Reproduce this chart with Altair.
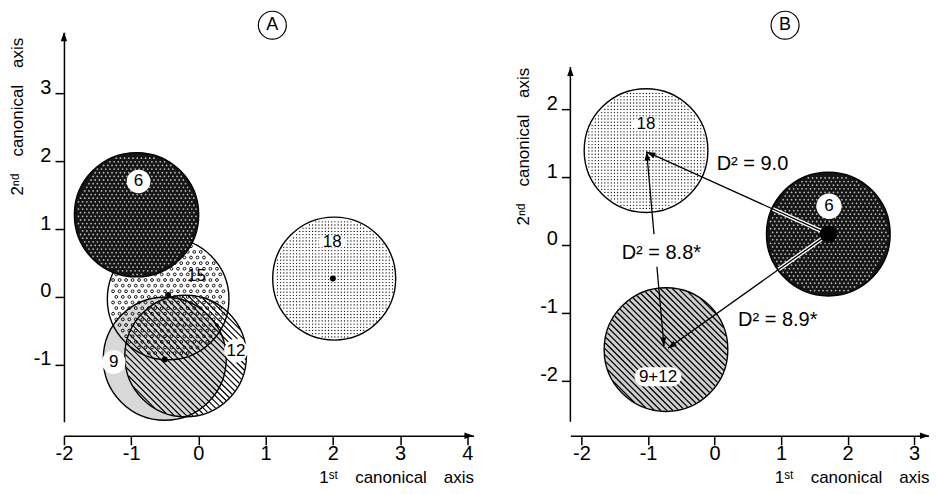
import math
import numpy as np
import pandas as pd
import altair as alt

FONT = "Liberation Sans"

# ---------------- data ----------------
# Panel A : group centroids and confidence-circle radii (canonical units)
A_GROUPS = ["6", "15", "18", "9", "12"]
A_CX = [-0.92, -0.45, 2.02, -0.50, -0.19]
A_CY = [1.21, -0.03, 0.27, -0.91, -0.87]
A_R = [0.92, 0.90, 0.91, 0.91, 0.90]
A_LABEL_X = [-0.89, -0.03, 1.99, -1.26, 0.56]
A_LABEL_Y = [1.70, 0.31, 0.81, -0.96, -0.79]
A_DOT_X = [-0.45, 2.00, -0.50]
A_DOT_Y = [0.03, 0.27, -0.92]
A_XTICKS = [-2, -1, 0, 1, 2, 3, 4]
A_YTICKS = [-1, 0, 1, 2, 3]

# Panel B
B_GROUPS = ["18", "6", "9+12"]
B_CX = [-1.03, 1.71, -0.73]
B_CY = [1.39, 0.16, -1.54]
B_R = [0.92, 0.92, 0.92]
B_LABEL_X = [-1.03, 1.72, -0.85]
B_LABEL_Y = [1.78, 0.57, -1.94]
B_XTICKS = [-2, -1, 0, 1, 2, 3]
B_YTICKS = [-2, -1, 0, 1, 2]
B_YAXIS_TOP = 2.62

# Mahalanobis distances between groups (panel B arrows)
D_TEXT = ["D\u00b2 = 9.0", "D\u00b2 = 8.8*", "D\u00b2 = 8.9*"]
D_X1 = [1.71, -0.76, 1.71]
D_Y1 = [0.16, -1.49, 0.16]
D_X2 = [-1.02, -1.02, -0.70]
D_Y2 = [1.37, 1.37, -1.52]
D_BOTH = [False, True, False]
D_GAP_LO = [None, -0.32, None]
D_GAP_HI = [None, 0.16, None]
D_TX = [0.57, -0.80, 0.95]
D_TY = [1.19, -0.12, -1.10]

PANEL_LETTERS = ["A", "B"]
LETTER_X = [1.10, 1.06]
LETTER_Y = [4.00, 3.235]

# ---------------- layout (pixels per unit, plot sizes) ----------------
H = 390
KX_A, KY_A, W_A, XMIN_A, YTOP_A = 67.3, 68.0, 410, -2.0, 3.897
KX_B, KY_B, W_B, XMIN_B, YTOP_B = 66.6, 68.0, 359, -2.167, 3.132
XMAX_A, YBOT_A = XMIN_A + W_A / KX_A, YTOP_A - H / KY_A
XMAX_B, YBOT_B = XMIN_B + W_B / KX_B, YTOP_B - H / KY_B

ARROW = "M0,0 L-0.35,1 L0.35,1 Z"
PILL = "M-0.6,-0.42 L0.6,-0.42 A0.42,0.42 0 0 1 0.6,0.42 L-0.6,0.42 A0.42,0.42 0 0 1 -0.6,-0.42 Z"
LBL = "datum.value < 0 ? '-' + abs(datum.value) : '' + datum.value"


def rpx(r, kx, ky):
    return r * math.sqrt(kx * ky)


def sym_size(r, kx, ky):
    # Vega circle symbol: radius = sqrt(size) / 2
    return (2 * rpx(r, kx, ky)) ** 2


def hatch(cx, cy, r, kx, ky, spacing=4.3, inset=0.7):
    R = rpx(r, kx, ky)
    s2 = math.sqrt(0.5)
    rows = []
    for d in np.arange(-R + spacing / 2, R, spacing):
        h = math.sqrt(max(R * R - d * d, 0)) - inset
        if h <= 0.5:
            continue
        px, py = d * s2, -d * s2
        X1, Y1 = px - h * s2, py - h * s2
        X2, Y2 = px + h * s2, py + h * s2
        rows.append(dict(x=cx + X1 / kx, y=cy - Y1 / ky, x2=cx + X2 / kx, y2=cy - Y2 / ky))
    return pd.DataFrame(rows)


def grid(cx, cy, r, kx, ky, spacing, inset=1.5, hexagonal=True):
    R = rpx(r, kx, ky) - inset
    pts = []
    step_y = spacing * (0.866 if hexagonal else 1.0)
    for j, Y in enumerate(np.arange(-R, R + 0.01, step_y)):
        off = spacing / 2 if (hexagonal and j % 2) else 0
        for X in np.arange(-R + off, R + 0.01, spacing):
            if X * X + Y * Y <= R * R:
                pts.append(dict(x=cx + X / kx, y=cy - Y / ky))
    return pd.DataFrame(pts)


def bearing(x1, y1, x2, y2, kx, ky):
    dX = (x2 - x1) * kx
    dY = -(y2 - y1) * ky
    return math.degrees(math.atan2(dX, -dY)) % 360


def x_axis(values):
    return alt.Axis(values=values, title="1\u02e2\u1d57\u2003canonical\u2003axis", titleAnchor="end",
                    offset=14, tickSize=9, tickWidth=1.5, tickColor="black", domain=True,
                    domainColor="black", domainWidth=1.5, labelExpr=LBL, labelFont=FONT,
                    labelFontSize=20, labelColor="black", labelPadding=-1, labelFlush=False,
                    labelOverlap=False, titleFont=FONT, titleFontSize=17, titleFontWeight="normal",
                    titleColor="black", titlePadding=6, grid=False)


def y_axis(values, domain, title_y):
    return alt.Axis(values=values, title="2\u207f\u1d48\u2003canonical\u2003axis", titleAnchor="end",
                    titleY=title_y, tickSize=9, tickWidth=1.5, tickColor="black", domain=domain,
                    domainColor="black", domainWidth=1.5, labelExpr=LBL, labelFont=FONT,
                    labelFontSize=20, labelColor="black", labelPadding=4, labelBaseline="alphabetic",
                    labelFlush=False, labelOverlap=False, titleFont=FONT, titleFontSize=17,
                    titleFontWeight="normal", titleColor="black", titlePadding=7, grid=False)


def make_enc(xmin, xmax, ybot, ytop, xa, ya):
    xs = alt.Scale(domain=[xmin, xmax], nice=False, zero=False)
    ys = alt.Scale(domain=[ybot, ytop], nice=False, zero=False)

    def X(f="x"):
        return alt.X(f"{f}:Q", scale=xs, axis=xa)

    def Y(f="y"):
        return alt.Y(f"{f}:Q", scale=ys, axis=ya)
    return X, Y


def text_layer(df, X, Y, size, xf="x", yf="y"):
    return alt.Chart(df).mark_text(font=FONT, fontSize=size, color="black", align="center",
                                   baseline="middle").encode(X(xf), Y(yf), text="t:N")


# ====================== PANEL A ======================
XA, YA = make_enc(XMIN_A, XMAX_A, YBOT_A, YTOP_A, x_axis(A_XTICKS), y_axis(A_YTICKS, True, 5))
circA = pd.DataFrame(dict(g=A_GROUPS, x=A_CX, y=A_CY, r=A_R, lx=A_LABEL_X, ly=A_LABEL_Y))
circA["s"] = [sym_size(r, KX_A, KY_A) for r in A_R]
circA["t"] = A_GROUPS
cA = {g: row for g, row in circA.set_index("g").iterrows()}

a_layers = []
a_layers.append(alt.Chart(circA[circA.g == "9"]).mark_circle(color="#d8d8d8", opacity=1)
                .encode(XA(), YA(), size=alt.Size("s:Q", scale=None)))
a_layers.append(alt.Chart(hatch(cA["12"].x, cA["12"].y, cA["12"].r, KX_A, KY_A))
                .mark_rule(color="black", strokeWidth=1.2)
                .encode(XA(), YA(), x2="x2:Q", y2="y2:Q"))
a_layers.append(alt.Chart(grid(cA["15"].x, cA["15"].y, cA["15"].r, KX_A, KY_A, 6.5, 2.5))
                .mark_point(shape="circle", filled=False, color="black", size=8, strokeWidth=0.9, opacity=1)
                .encode(XA(), YA()))
a_layers.append(alt.Chart(grid(cA["18"].x, cA["18"].y, cA["18"].r, KX_A, KY_A, 3.2, 1.5, False))
                .mark_circle(color="black", size=1.6, opacity=1).encode(XA(), YA()))
a_layers.append(alt.Chart(circA[circA.g != "6"]).mark_point(shape="circle", filled=False, color="black",
                                                            strokeWidth=1.4, opacity=1)
                .encode(XA(), YA(), size=alt.Size("s:Q", scale=None)))
a_layers.append(alt.Chart(circA[circA.g == "6"]).mark_circle(color="#151515", opacity=1)
                .encode(XA(), YA(), size=alt.Size("s:Q", scale=None)))
a_layers.append(alt.Chart(grid(cA["6"].x, cA["6"].y, cA["6"].r, KX_A, KY_A, 4.2, 2.0))
                .mark_circle(color="white", size=3.2, opacity=0.7).encode(XA(), YA()))
a_layers.append(alt.Chart(circA[circA.g == "6"]).mark_point(shape="circle", filled=False, color="black",
                                                            strokeWidth=1.4, opacity=1)
                .encode(XA(), YA(), size=alt.Size("s:Q", scale=None)))
a_layers.append(alt.Chart(circA[circA.g.isin(["6", "9", "12"])]).mark_circle(color="white", size=560, opacity=1)
                .encode(XA("lx"), YA("ly")))
a_layers.append(alt.Chart(circA[circA.g == "18"]).mark_point(shape=PILL, filled=True, color="white", size=700, opacity=1)
                .encode(XA("lx"), YA("ly")))
a_layers.append(text_layer(circA, XA, YA, 17, "lx", "ly"))
a_layers.append(alt.Chart(pd.DataFrame(dict(x=A_DOT_X, y=A_DOT_Y)))
                .mark_circle(color="black", size=36, opacity=1).encode(XA(), YA()))
a_layers.append(alt.Chart(pd.DataFrame(dict(x=[XMIN_A], y=[YTOP_A])))
                .mark_point(shape=ARROW, filled=True, color="black", size=330, opacity=1, angle=0)
                .encode(XA(), YA()))
a_layers.append(alt.Chart(pd.DataFrame(dict(x=[XMAX_A], y=[YBOT_A])))
                .mark_point(shape=ARROW, filled=True, color="black", size=330, opacity=1, angle=90, yOffset=14)
                .encode(XA(), YA()))
letA = pd.DataFrame(dict(x=[LETTER_X[0]], y=[LETTER_Y[0]], t=[PANEL_LETTERS[0]]))
a_layers.append(alt.Chart(letA).mark_point(shape="circle", filled=False, color="black", size=784,
                                           strokeWidth=1.2, opacity=1).encode(XA(), YA()))
a_layers.append(text_layer(letA, XA, YA, 18))

panelA = alt.layer(*a_layers).properties(width=W_A, height=H)

# ====================== PANEL B ======================
XB, YB = make_enc(XMIN_B, XMAX_B, YBOT_B, YTOP_B, x_axis(B_XTICKS), y_axis(B_YTICKS, False, 35))
circB = pd.DataFrame(dict(g=B_GROUPS, x=B_CX, y=B_CY, r=B_R, lx=B_LABEL_X, ly=B_LABEL_Y))
circB["s"] = [sym_size(r, KX_B, KY_B) for r in B_R]
circB["t"] = B_GROUPS
cB = {g: row for g, row in circB.set_index("g").iterrows()}

# arrow segments, halos and heads
segs, halos, heads = [], [], []
c6 = cB["6"]
R6 = rpx(c6.r, KX_B, KY_B)
for i in range(len(D_TEXT)):
    x1, y1, x2, y2 = D_X1[i], D_Y1[i], D_X2[i], D_Y2[i]
    if D_GAP_LO[i] is not None:
        def xat(yy):
            return x1 + (x2 - x1) * (yy - y1) / (y2 - y1)
        segs.append(dict(x=x1, y=y1, x2=xat(D_GAP_LO[i]), y2=D_GAP_LO[i]))
        segs.append(dict(x=xat(D_GAP_HI[i]), y=D_GAP_HI[i], x2=x2, y2=y2))
    else:
        segs.append(dict(x=x1, y=y1, x2=x2, y2=y2))
    heads.append(dict(x=x2, y=y2, a=bearing(x1, y1, x2, y2, KX_B, KY_B)))
    if D_BOTH[i]:
        heads.append(dict(x=x1, y=y1, a=bearing(x2, y2, x1, y1, KX_B, KY_B)))
    if abs(x1 - c6.x) < 1e-9 and abs(y1 - c6.y) < 1e-9:
        dX, dY = (x2 - x1) * KX_B, (y2 - y1) * KY_B
        L = math.hypot(dX, dY)
        f = (R6 - 1.0) / L
        halos.append(dict(x=x1, y=y1, x2=x1 + (x2 - x1) * f, y2=y1 + (y2 - y1) * f))
segs, halos, heads = pd.DataFrame(segs), pd.DataFrame(halos), pd.DataFrame(heads)
dlab = pd.DataFrame(dict(x=D_TX, y=D_TY, t=D_TEXT))

b_layers = []
b_layers.append(alt.Chart(circB[circB.g == "9+12"]).mark_circle(color="#cfcfcf", opacity=1)
                .encode(XB(), YB(), size=alt.Size("s:Q", scale=None)))
b_layers.append(alt.Chart(hatch(cB["9+12"].x, cB["9+12"].y, cB["9+12"].r, KX_B, KY_B))
                .mark_rule(color="black", strokeWidth=1.3)
                .encode(XB(), YB(), x2="x2:Q", y2="y2:Q"))
b_layers.append(alt.Chart(grid(cB["18"].x, cB["18"].y, cB["18"].r, KX_B, KY_B, 3.2, 1.5, False))
                .mark_circle(color="black", size=1.6, opacity=1).encode(XB(), YB()))
b_layers.append(alt.Chart(circB[circB.g != "6"]).mark_point(shape="circle", filled=False, color="black",
                                                            strokeWidth=1.4, opacity=1)
                .encode(XB(), YB(), size=alt.Size("s:Q", scale=None)))
b_layers.append(alt.Chart(circB[circB.g == "6"]).mark_circle(color="#151515", opacity=1)
                .encode(XB(), YB(), size=alt.Size("s:Q", scale=None)))
b_layers.append(alt.Chart(grid(c6.x, c6.y, c6.r, KX_B, KY_B, 4.2, 2.0))
                .mark_circle(color="white", size=3.2, opacity=0.7).encode(XB(), YB()))
b_layers.append(alt.Chart(circB[circB.g == "6"]).mark_point(shape="circle", filled=False, color="black",
                                                            strokeWidth=1.4, opacity=1)
                .encode(XB(), YB(), size=alt.Size("s:Q", scale=None)))
b_layers.append(alt.Chart(halos).mark_rule(color="white", strokeWidth=4)
                .encode(XB(), YB(), x2="x2:Q", y2="y2:Q"))
b_layers.append(alt.Chart(segs).mark_rule(color="black", strokeWidth=1.3)
                .encode(XB(), YB(), x2="x2:Q", y2="y2:Q"))
b_layers.append(alt.Chart(circB[circB.g == "6"]).mark_circle(color="black", size=300, opacity=1)
                .encode(XB(), YB()))
b_layers.append(alt.Chart(heads).mark_point(shape=ARROW, filled=True, color="black", size=300, opacity=1)
                .encode(XB(), YB(), angle=alt.Angle("a:Q", scale=None)))
b_layers.append(alt.Chart(circB[circB.g == "6"]).mark_circle(color="white", size=640, opacity=1)
                .encode(XB("lx"), YB("ly")))
b_layers.append(alt.Chart(circB[circB.g == "9+12"]).mark_point(shape=PILL, filled=True, color="white",
                                                               size=2100, opacity=1)
                .encode(XB("lx"), YB("ly")))
b_layers.append(alt.Chart(circB[circB.g == "18"]).mark_point(shape=PILL, filled=True, color="white",
                                                             size=700, opacity=1)
                .encode(XB("lx"), YB("ly")))
b_layers.append(text_layer(circB, XB, YB, 17, "lx", "ly"))
b_layers.append(text_layer(dlab, XB, YB, 20))
b_layers.append(alt.Chart(pd.DataFrame(dict(x=[XMIN_B], y=[YBOT_B], y2=[B_YAXIS_TOP])))
                .mark_rule(color="black", strokeWidth=1.5).encode(XB(), YB(), y2="y2:Q"))
b_layers.append(alt.Chart(pd.DataFrame(dict(x=[XMIN_B], y=[B_YAXIS_TOP])))
                .mark_point(shape=ARROW, filled=True, color="black", size=330, opacity=1, angle=0)
                .encode(XB(), YB()))
b_layers.append(alt.Chart(pd.DataFrame(dict(x=[XMAX_B], y=[YBOT_B])))
                .mark_point(shape=ARROW, filled=True, color="black", size=330, opacity=1, angle=90, yOffset=14)
                .encode(XB(), YB()))
letB = pd.DataFrame(dict(x=[LETTER_X[1]], y=[LETTER_Y[1]], t=[PANEL_LETTERS[1]]))
b_layers.append(alt.Chart(letB).mark_point(shape="circle", filled=False, color="black", size=784,
                                           strokeWidth=1.2, opacity=1).encode(XB(), YB()))
b_layers.append(text_layer(letB, XB, YB, 18))

panelB = alt.layer(*b_layers).properties(width=W_B, height=H)

chart = (alt.hconcat(panelA, panelB, spacing=41)
         .properties(padding=0, background="white")
         .configure_view(strokeWidth=0))

chart.save("out.html", embed_options={"renderer": "svg", "actions": False})
